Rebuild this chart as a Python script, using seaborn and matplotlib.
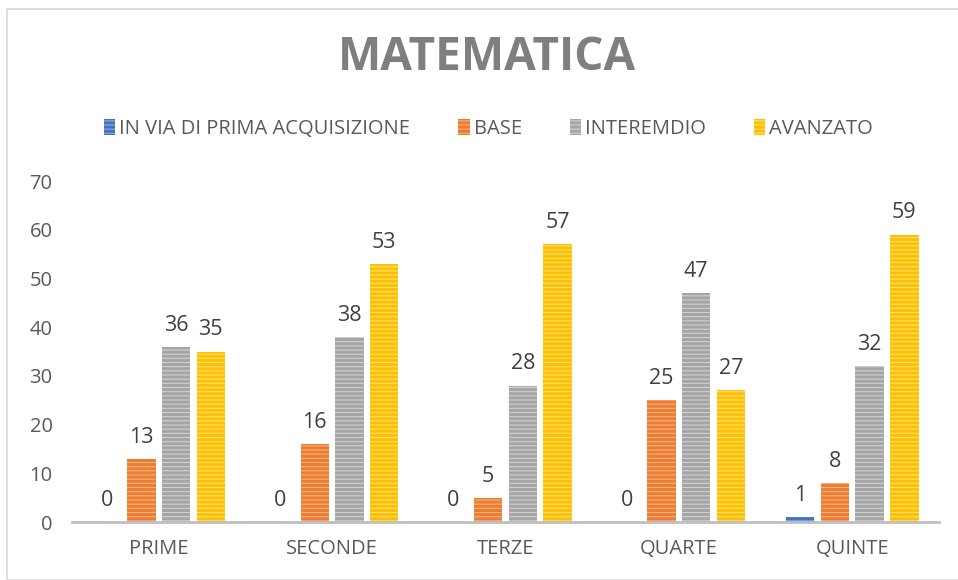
import numpy as np
import pandas as pd
import matplotlib
matplotlib.use("Agg")
import matplotlib.pyplot as plt
import seaborn as sns
from matplotlib.patches import Rectangle

classi = ["PRIME", "SECONDE", "TERZE", "QUARTE", "QUINTE"]
livelli = ["IN VIA DI PRIMA ACQUISIZIONE", "BASE", "INTEREMDIO", "AVANZATO"]
in_via = [0, 0, 0, 0, 1]
base = [13, 16, 5, 25, 8]
intermedio = [36, 38, 28, 47, 32]
avanzato = [35, 53, 57, 27, 59]

colori = ["#4472C4", "#ED7D31", "#A5A5A5", "#FFC000"]
chiari = ["#8FAADC", "#F4B183", "#D0D0D0", "#FFE07A"]

df = pd.DataFrame({
    "classe": classi * 4,
    "livello": np.repeat(livelli, 5),
    "valore": in_via + base + intermedio + avanzato,
})

sns.set_theme(style="white")
plt.rcParams['font.family'] = ['Open Sans', 'DejaVu Sans']
plt.rcParams['hatch.linewidth'] = 2.2

fig = plt.figure(figsize=(9.58, 5.8), dpi=100)
ax = fig.add_axes([72/958, 0.1, (939-72)/958, (522-181)/580])

sns.barplot(data=df, x="classe", y="valore", hue="livello", hue_order=livelli,
            order=classi, palette=colori, width=0.8, gap=0.18, legend=False, ax=ax)

for i, cont in enumerate(ax.containers):
    for bar in cont:
        bar.set_facecolor(chiari[i])
        bar.set_edgecolor(colori[i])
        bar.set_hatch("----")
        bar.set_linewidth(0)
    ax.bar_label(cont, labels=[str(int(v)) for v in cont.datavalues],
                 padding=8, fontsize=15.5, color="#404040")

ax.set_ylim(0, 70)
ax.set_xlim(-0.5, 4.5)
ax.set_yticks(range(0, 71, 10))
ax.set_xlabel("")
ax.set_ylabel("")
ax.tick_params(axis="both", labelsize=14.5, labelcolor="#595959", length=0)
ax.tick_params(axis="x", pad=12)
ax.tick_params(axis="y", pad=14)
for s in ["top", "right", "left"]:
    ax.spines[s].set_visible(False)
ax.spines["bottom"].set_color("#BFBFBF")
ax.spines["bottom"].set_linewidth(2)

fig.text(0.508, 1 - 58/580, "MATEMATICA", ha="center", va="center",
         fontsize=33, fontweight="bold", color="#7F7F7F")

handles = [Rectangle((0, 0), 1, 1, facecolor=chiari[i], edgecolor=colori[i],
                     hatch="----", linewidth=0) for i in range(4)]
fig.legend(handles, livelli, loc="center", bbox_to_anchor=(0.51, 1 - 129/580),
           ncol=4, frameon=False, fontsize=14.5, labelcolor="#595959",
           handlelength=0.55, handleheight=0.8, handletextpad=0.2, columnspacing=2.4)

fig.add_artist(Rectangle((7/958, 0), 1, 1 - 9/580, transform=fig.transFigure,
                         fill=False, edgecolor="#D9D9D9", linewidth=1.2))

fig.savefig("out.png", dpi=100)
